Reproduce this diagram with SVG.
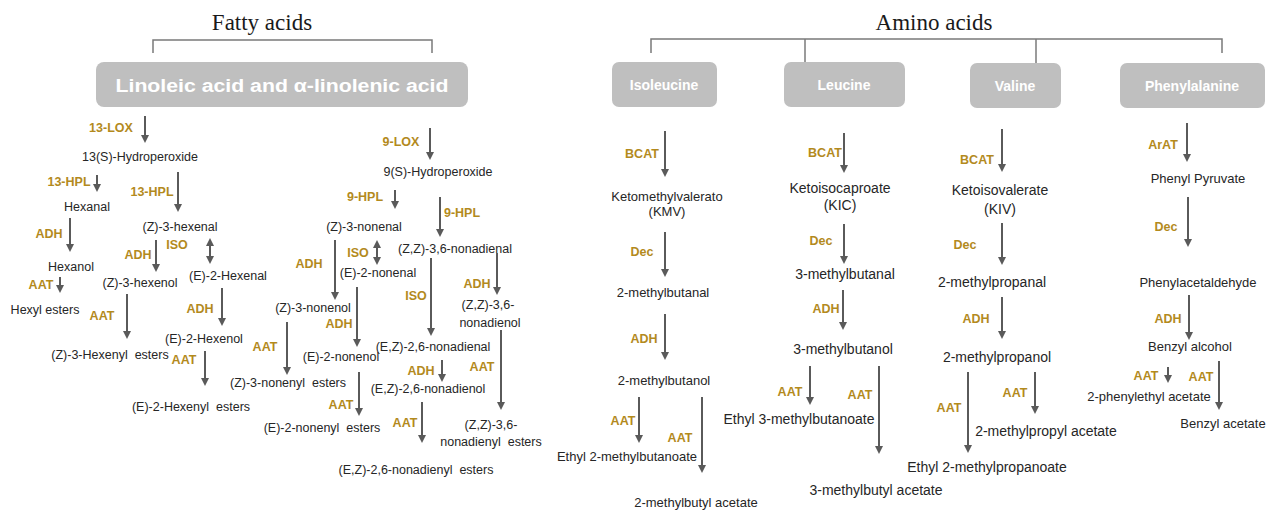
<svg xmlns="http://www.w3.org/2000/svg" width="1266" height="510" viewBox="0 0 1266 510">
<defs>
<style>
.h{font-family:"Liberation Serif","Times New Roman",serif;font-size:23px;fill:#1a1a1a;text-anchor:middle}
.br{fill:none;stroke:#7a7a7a;stroke-width:1.5}
.box{fill:#bfbfbf}
.bt{font-family:"Liberation Sans",Arial,sans-serif;font-weight:bold;fill:#ffffff;text-anchor:middle}
.t{font-family:"Liberation Sans",Arial,sans-serif;font-size:12.5px;fill:#262626;text-anchor:middle}
.t13{font-size:13px}
.t14{font-size:14px}
.g{font-family:"Liberation Sans",Arial,sans-serif;font-size:12.5px;font-weight:bold;fill:#b38a1d;text-anchor:middle}
.a{fill:none;stroke:#5a5a5a;stroke-width:2;marker-end:url(#ah)}
.d{fill:none;stroke:#5a5a5a;stroke-width:2;marker-end:url(#ah);marker-start:url(#ah)}
</style>
<marker id="ah" viewBox="0 0 10 10" refX="6.25" refY="5" markerWidth="8" markerHeight="8" markerUnits="userSpaceOnUse" orient="auto-start-reverse">
<path d="M0,0 L10,5 L0,10 z" fill="#5a5a5a"/>
</marker>
</defs>
<rect width="1266" height="510" fill="#ffffff"/>

<g id="headings">
<text class="h" x="262" y="30">Fatty acids</text>
<text class="h" x="934" y="30">Amino acids</text>
</g>

<g id="brackets">
<path class="br" d="M153,53 V40 H432 V53"/>
<path class="br" d="M651,53 V39 H1222 V53"/>
<path class="br" d="M805,39 V63"/>
<path class="br" d="M1036,39 V63"/>
</g>

<g id="node-linoleic">
<rect class="box" x="96" y="62" width="372" height="45" rx="8"/>
<text class="bt" x="282" y="92" font-size="18" textLength="333" lengthAdjust="spacingAndGlyphs">Linoleic  acid and α-linolenic  acid</text>
</g>
<g id="node-isoleucine">
<rect class="box" x="612" y="62" width="105" height="45" rx="7"/>
<text class="bt" x="664" y="90" font-size="14">Isoleucine</text>
</g>
<g id="node-leucine">
<rect class="box" x="784" y="62" width="121" height="45" rx="7"/>
<text class="bt" x="844" y="90" font-size="14">Leucine</text>
</g>
<g id="node-valine">
<rect class="box" x="970" y="63" width="91" height="45" rx="7"/>
<text class="bt" x="1015" y="91" font-size="14">Valine</text>
</g>
<g id="node-phenylalanine">
<rect class="box" x="1120" y="63" width="145" height="45" rx="7"/>
<text class="bt" x="1192" y="91" font-size="14">Phenylalanine</text>
</g>

<g id="connectors">
<path class="a" d="M145,116 V140"/>
<path class="a" d="M97,175 V189"/>
<path class="a" d="M178,172 V209"/>
<path class="a" d="M70,218 V249"/>
<path class="d" d="M210,241 V261"/>
<path class="a" d="M156,240 V269"/>
<path class="a" d="M60,277 V290"/>
<path class="a" d="M127,294 V336"/>
<path class="a" d="M222,288 V323"/>
<path class="a" d="M205,351 V383"/>
<path class="a" d="M430,128 V157"/>
<path class="a" d="M395,190 V206"/>
<path class="a" d="M440,197 V234"/>
<path class="d" d="M377,243 V262"/>
<path class="a" d="M335,240 V297"/>
<path class="a" d="M431,258 V333"/>
<path class="a" d="M497,253 V292"/>
<path class="a" d="M357,287 V344"/>
<path class="a" d="M287,322 V372"/>
<path class="a" d="M501,330 V407"/>
<path class="a" d="M442,360 V379"/>
<path class="a" d="M359,372 V413"/>
<path class="a" d="M422,402 V440"/>
<path class="a" d="M665,131 V174"/>
<path class="a" d="M665,232 V274"/>
<path class="a" d="M665,314 V357"/>
<path class="a" d="M639,397 V440"/>
<path class="a" d="M702,397 V470"/>
<path class="a" d="M844,133 V170"/>
<path class="a" d="M844,224 V261"/>
<path class="a" d="M843,290 V327"/>
<path class="a" d="M810,366 V402"/>
<path class="a" d="M879,366 V451"/>
<path class="a" d="M1002,129 V169"/>
<path class="a" d="M1002,223 V262"/>
<path class="a" d="M1002,297 V336"/>
<path class="a" d="M1035,372 V411"/>
<path class="a" d="M968,372 V450"/>
<path class="a" d="M1187,123 V159"/>
<path class="a" d="M1188,197 V244"/>
<path class="a" d="M1189,295 V337"/>
<path class="a" d="M1168,367 V380"/>
<path class="a" d="M1219,361 V407"/>
</g>

<g id="enzyme-labels">
<text class="g" x="111" y="132">13-LOX</text>
<text class="g" x="69" y="186">13-HPL</text>
<text class="g" x="152" y="196">13-HPL</text>
<text class="g" x="49" y="238">ADH</text>
<text class="g" x="177" y="249">ISO</text>
<text class="g" x="138" y="259">ADH</text>
<text class="g" x="41" y="289">AAT</text>
<text class="g" x="102" y="320">AAT</text>
<text class="g" x="200" y="313">ADH</text>
<text class="g" x="184" y="364">AAT</text>
<text class="g" x="401" y="146">9-LOX</text>
<text class="g" x="365" y="201">9-HPL</text>
<text class="g" x="462" y="217">9-HPL</text>
<text class="g" x="358" y="257">ISO</text>
<text class="g" x="309" y="268">ADH</text>
<text class="g" x="416" y="300">ISO</text>
<text class="g" x="477" y="288">ADH</text>
<text class="g" x="339" y="328">ADH</text>
<text class="g" x="265" y="351">AAT</text>
<text class="g" x="482" y="371">AAT</text>
<text class="g" x="421" y="375">ADH</text>
<text class="g" x="341" y="409">AAT</text>
<text class="g" x="405" y="427">AAT</text>
<text class="g" x="642" y="158">BCAT</text>
<text class="g" x="642" y="256">Dec</text>
<text class="g" x="644" y="343">ADH</text>
<text class="g" x="623" y="425">AAT</text>
<text class="g" x="680" y="442">AAT</text>
<text class="g" x="825" y="157">BCAT</text>
<text class="g" x="821" y="245">Dec</text>
<text class="g" x="826" y="313">ADH</text>
<text class="g" x="790" y="396">AAT</text>
<text class="g" x="860" y="399">AAT</text>
<text class="g" x="977" y="164">BCAT</text>
<text class="g" x="965" y="249">Dec</text>
<text class="g" x="976" y="323">ADH</text>
<text class="g" x="1015" y="397">AAT</text>
<text class="g" x="949" y="412">AAT</text>
<text class="g" x="1163" y="149">ArAT</text>
<text class="g" x="1166" y="231">Dec</text>
<text class="g" x="1168" y="323">ADH</text>
<text class="g" x="1146" y="380">AAT</text>
<text class="g" x="1201" y="381">AAT</text>
</g>

<g id="fatty-13-branch">
<text class="t" x="140" y="161">13(S)-Hydroperoxide</text>
<text class="t" x="87" y="211">Hexanal</text>
<text class="t" x="180" y="231">(Z)-3-hexenal</text>
<text class="t" x="71" y="271">Hexanol</text>
<text class="t" x="140" y="287">(Z)-3-hexenol</text>
<text class="t" x="228" y="280">(E)-2-Hexenal</text>
<text class="t" x="45" y="314">Hexyl esters</text>
<text class="t" x="204" y="343">(E)-2-Hexenol</text>
<text class="t" x="110" y="359" xml:space="preserve">(Z)-3-Hexenyl  esters</text>
<text class="t" x="191" y="411" xml:space="preserve">(E)-2-Hexenyl  esters</text>
</g>

<g id="fatty-9-branch">
<text class="t" x="438" y="176">9(S)-Hydroperoxide</text>
<text class="t" x="364" y="231">(Z)-3-nonenal</text>
<text class="t" x="455" y="253">(Z,Z)-3,6-nonadienal</text>
<text class="t" x="378" y="277">(E)-2-nonenal</text>
<text class="t" x="488" y="309">(Z,Z)-3,6-</text>
<text class="t" x="490" y="327">nonadienol</text>
<text class="t" x="313" y="312">(Z)-3-nonenol</text>
<text class="t" x="433" y="351">(E,Z)-2,6-nonadienal</text>
<text class="t" x="341" y="361">(E)-2-nonenol</text>
<text class="t" x="288" y="387" xml:space="preserve">(Z)-3-nonenyl  esters</text>
<text class="t" x="428" y="393">(E,Z)-2,6-nonadienol</text>
<text class="t" x="322" y="432" xml:space="preserve">(E)-2-nonenyl  esters</text>
<text class="t" x="491" y="429">(Z,Z)-3,6-</text>
<text class="t" x="491" y="446" xml:space="preserve">nonadienyl  esters</text>
<text class="t" x="416" y="474" xml:space="preserve">(E,Z)-2,6-nonadienyl  esters</text>
</g>

<g id="isoleucine-pathway">
<text class="t t13" x="667" y="201">Ketomethylvalerato</text>
<text class="t t13" x="667" y="216">(KMV)</text>
<text class="t t13" x="663" y="297">2-methylbutanal</text>
<text class="t t13" x="664" y="385">2-methylbutanol</text>
<text class="t t13" x="627" y="461">Ethyl 2-methylbutanoate</text>
<text class="t t13" x="696" y="507">2-methylbutyl acetate</text>
</g>

<g id="leucine-pathway">
<text class="t t14" x="840" y="193">Ketoisocaproate</text>
<text class="t t14" x="840" y="210">(KIC)</text>
<text class="t t14" x="845" y="279">3-methylbutanal</text>
<text class="t t14" x="843" y="354">3-methylbutanol</text>
<text class="t t14" x="799" y="424">Ethyl 3-methylbutanoate</text>
<text class="t t14" x="876" y="495">3-methylbutyl acetate</text>
</g>

<g id="valine-pathway">
<text class="t t14" x="1000" y="195">Ketoisovalerate</text>
<text class="t t14" x="1000" y="214">(KIV)</text>
<text class="t t14" x="992" y="287">2-methylpropanal</text>
<text class="t t14" x="997" y="362">2-methylpropanol</text>
<text class="t t14" x="1046" y="436">2-methylpropyl acetate</text>
<text class="t t14" x="987" y="472">Ethyl 2-methylpropanoate</text>
</g>

<g id="phenylalanine-pathway">
<text class="t t13" x="1198" y="183">Phenyl Pyruvate</text>
<text class="t t13" x="1198" y="287">Phenylacetaldehyde</text>
<text class="t t13" x="1190" y="351">Benzyl alcohol</text>
<text class="t t13" x="1149" y="401">2-phenylethyl acetate</text>
<text class="t t13" x="1223" y="428">Benzyl acetate</text>
</g>
</svg>
